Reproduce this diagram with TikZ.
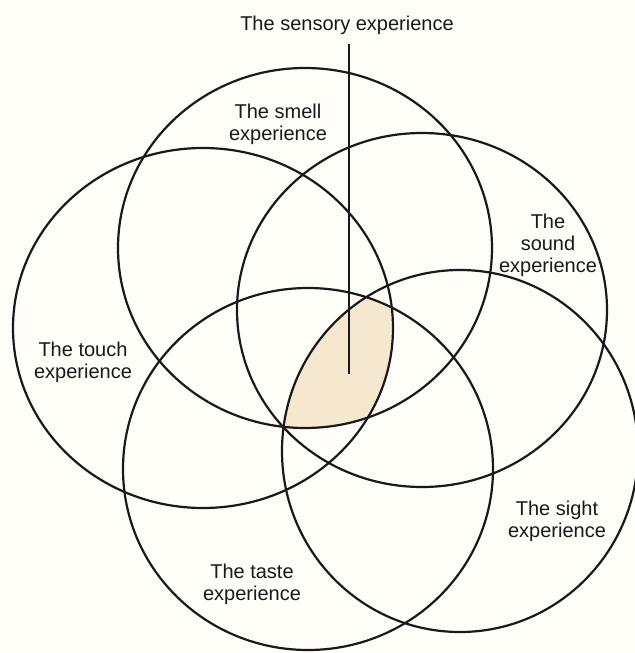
\documentclass[tikz,border=0pt]{standalone}
\usepackage{fontspec}
\setmainfont{Liberation Sans}
\definecolor{paper}{RGB}{254,253,248}
\definecolor{corefill}{RGB}{245,232,206}

\begin{document}
\begin{tikzpicture}[
  x=0.5pt, y=-0.5pt,
  sense/.style={
    draw=black!90,
    line width=1.1pt
  },
  sensetext/.style={
    align=center,
    inner sep=0pt,
    text=black!90,
    font=\fontsize{10}{11}\selectfont
  },
  leader/.style={draw=black!90, line width=1pt}
]

\fill[paper] (0,0) rectangle (635,653);
\useasboundingbox (0,0) rectangle (635,653);

\coordinate (smell) at (305,248);
\coordinate (touch) at (203,328);
\coordinate (sound) at (422,310);
\coordinate (sight) at (460,451);
\coordinate (taste) at (308,469);
\coordinate (core) at (349,374);

% shared part of all five
\begin{scope}
  \clip (smell) ellipse [x radius=93.5pt, y radius=90pt];
  \clip (touch) ellipse [x radius=95pt, y radius=90pt];
  \clip (sound) ellipse [x radius=92.5pt, y radius=88.5pt];
  \clip (sight) ellipse [x radius=89pt, y radius=90.5pt];
  \clip (taste) ellipse [x radius=92.5pt, y radius=90.5pt];
  \fill[corefill] (0,0) rectangle (635,653);
\end{scope}

\draw[sense] (smell) ellipse [x radius=93.5pt, y radius=90pt];
\draw[sense] (touch) ellipse [x radius=95pt, y radius=90pt];
\draw[sense] (sound) ellipse [x radius=92.5pt, y radius=88.5pt];
\draw[sense] (sight) ellipse [x radius=89pt, y radius=90.5pt];
\draw[sense] (taste) ellipse [x radius=92.5pt, y radius=90.5pt];

\node[sensetext] (title) at (347,25) {The sensory experience};
\node[sensetext] (smelltext) at (278,124) {The smell\\experience};
\node[sensetext] (touchtext) at (83,362) {The touch\\experience};
\node[sensetext] (soundtext) at (548,245) {The\\sound\\experience};
\node[sensetext] (sighttext) at (557,521) {The sight\\experience};
\node[sensetext] (tastetext) at (252,584) {The taste\\experience};

\draw[leader] ([yshift=-4.5pt]core |- title.south) -- (core);

\end{tikzpicture}
\end{document}
